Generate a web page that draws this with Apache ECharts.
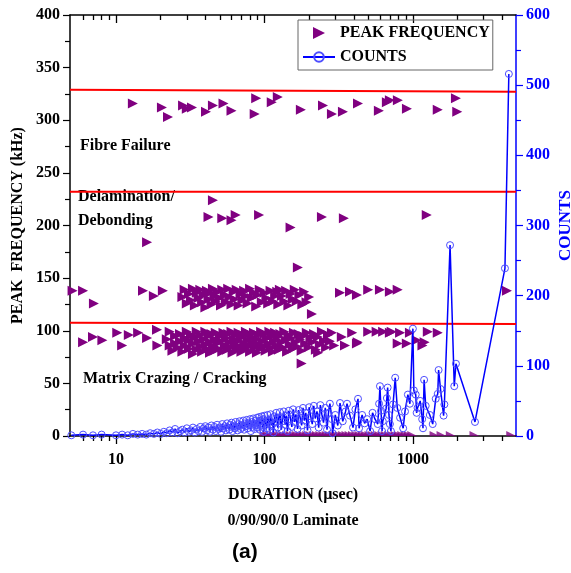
<!DOCTYPE html>
<html><head><meta charset="utf-8">
<script src="https://cdn.jsdelivr.net/npm/echarts@6/dist/echarts.min.js"></script>
<style>html,body{margin:0;padding:0;background:#fff}#c{width:571px;height:573px}</style>
</head><body><div id="c"></div>
<script>
// ---------- data ----------
const xMajorLabels = [10, 100, 1000];
const xMinorTicks = [6,7,8,9,20,30,40,50,60,70,80,90,200,300,400,500,600,700,800,900,2000,3000,4000];

const fibreBand = [[13,316],[20.4,312],[22.4,303],[28.3,314],[30,311],[32.5,312],[40.4,308],[45,314],[53,316],[60,309],[86,306],[88,321],[112,317],[123,322],[176,310],[248,314],[285,306],[338,308],[427,316],[590,309],[668,317],[700,319],[792,319],[912,311],[1470,310],[1950,321],[1990,308]];

const delamBand = [[16.2,184],[42,208],[45,224],[52,207],[60,205],[64,210],[92,210],[150,198],[168,160],[209,116],[244,208],[343,207],[1240,210]];

const band135 = [[5.1,138],[6.0,138],[7.1,126],[15.2,138],[18,133],[20.7,138],
[28,132],[29,139],[30,126],[31,135],[32,129],[33,140],[34,124],[35,136],[36,131],[37,139],[38,127],[39,134],[40,122],[41,138],[42,130],[43,136],[44,125],[45,140],[46,133],[47,128],[48,137],[50,131],[51,124],[52,139],[54,134],[55,127],[57,140],[58,132],[60,125],[62,137],[63,130],[65,139],[67,124],[69,135],[71,129],[73,138],[75,133],[77,126],[80,140],[82,131],[85,136],[88,123],[90,134],[93,139],[96,127],[100,136],[103,131],[106,126],[110,138],[114,128],[118,133],[122,137],[124,125],[127,139],[131,133],[136,128],[140,138],[145,124],[150,135],[155,130],[160,139],[165,128],[172,134],[180,125],[185,137],[192,127],[200,132],
[323,136],[377,137],[420,134],[500,139],[600,139],[700,137],[790,139],[4300,138]];

const band90 = [[6.0,89],[7.0,94],[8.1,91],[10.2,98],[11,86],[12.2,96],[14.1,98],[16.2,93],[18.9,101],[19,86],
[22,92],[23,86],[23,99],[24,81],[25,95],[25,88],[26,84],[27,97],[27,90],[28,80],[29,93],[29,86],[30,99],[31,83],[31,91],[32,96],[33,78],[33,88],[34,94],[35,82],[35,99],[36,90],[37,85],[37,96],[38,80],[39,92],[40,87],[40,99],[41,83],[42,95],[43,89],[43,79],[44,97],[45,85],[46,92],[46,81],[47,98],[48,88],[49,83],[50,95],[51,90],[52,80],[53,98],[54,86],[55,93],[56,82],[57,97],[58,89],[59,84],[60,99],[61,79],[62,92],[63,87],[64,96],[65,82],[66,90],[67,98],[68,85],[69,93],[70,80],[72,96],[73,88],[74,83],[75,99],[77,91],[78,85],[79,97],[80,80],[82,93],[83,88],[85,98],[86,84],[88,92],[89,79],[91,96],[92,87],[94,83],[95,99],[97,90],[99,85],[100,97],[102,81],[104,93],[106,88],[108,99],[110,84],[112,95],[114,80],[116,90],[118,98],[120,86],[123,94],[125,82],[128,97],[130,89],[133,84],[136,99],[139,91],[142,80],[145,96],[148,87],[151,93],[155,83],[158,98],[162,89],[166,85],[170,97],[174,92],[178,81],[183,95],[188,88],[193,98],[198,84],[204,93],[210,89],[216,97],[222,82],[229,94],[236,87],[244,99],[252,90],[260,84],[268,96],[276,90],[285,98],[295,86],
[178,69],[230,79],[332,94],[349,86],[390,98],[420,88],[425,89],[500,99],[570,99],[630,99],[700,98],[720,99],[790,88],[820,98],[910,88],[955,98],[1060,91],[1160,86],[1200,89],[1260,99],[1470,98]];

const bandZero = [[100,0],[105,0],[110,0],[116,0],[122,0],[128,0],[135,0],[142,0],[150,0],[158,0],[166,0],[175,0],[184,0],[194,0],[204,0],[215,0],[226,0],[238,0],[250,0],[263,0],[277,0],[291,0],[306,0],[322,0],[339,0],[357,0],[375,0],[395,0],[416,0],[437,0],[460,0],[484,0],[510,0],[536,0],[564,0],[594,0],[625,0],[657,0],[692,0],[728,0],[766,0],[806,0],[848,0],[893,0],[940,0],[990,0],[1400,0],[1560,0],[1800,0],[2600,0],[4600,0]];

const counts = [[5,1],[6,2],[7,1],[8,2],[10,1],[11,2],[12,1],[13,3],[14,2],[15,3],[16,2],[17,4],[18,3],[19,5],[20,3],[21,6],[22,4],[23,8],[24,5],[25,10],[26,4],[27,7],[28,9],[29,5],[30,11],[31,6],[32,8],[33,12],[34,5],[35,10],[36,7],[37,13],[38,6],[39,11],[40,14],[41,8],[42,12],[43,6],[44,15],[45,9],[46,13],[47,7],[48,16],[49,10],[50,12],[51,6],[52,17],[53,11],[54,14],[55,8],[56,18],[57,12],[58,9],[59,16],[60,19],[61,7],[62,14],[63,11],[64,20],[65,13],[66,8],[67,17],[68,21],[69,10],[70,15],[71,12],[72,22],[73,9],[74,18],[75,14],[76,23],[77,11],[78,19],[79,16],[80,24],[81,7],[82,20],[83,13],[84,25],[85,17],[86,10],[87,22],[88,15],[89,26],[90,12],[91,19],[92,27],[93,9],[94,21],[95,16],[96,28],[97,13],[98,24],[99,6],[100,29],
[102,18],[104,11],[105,30],[107,22],[108,8],[110,31],[112,15],[113,25],[115,5],[117,28],[118,19],[120,33],[123,12],[125,26],[127,34],[130,9],[132,21],[135,35],[138,16],[140,29],[143,7],[146,36],[150,24],[153,13],[156,38],[160,20],[163,31],[167,10],[170,37],[174,26],[178,15],[182,40],[186,22],[190,33],[195,8],[200,41],[205,28],[210,17],[215,43],[220,25],[226,35],[232,12],[238,44],[244,30],[250,19],[257,40],[264,9],[270,33],[276,46],
[285,24],[288,4],[300,30],[312,15],[323,47],[337,21],[352,35],[360,46],[377,29],[395,12],[410,38],[427,53],[434,11],[455,30],[473,18],[492,24],[515,7],[535,33],[556,24],[580,17],[592,46],[600,71],[610,36],[620,7],[627,21],[660,39],[668,54],[676,69],[690,30],[700,17],[711,7],[735,45],[760,83],[785,40],[820,26],[860,11],[885,35],[925,59],[955,46],[1000,153],[1015,65],[1045,59],[1060,33],[1075,40],[1120,50],[1155,24],[1170,11],[1190,80],[1220,43],[1300,30],[1360,17],[1425,53],[1470,60],[1490,94],[1535,67],[1610,29],[1630,45],[1780,272],[1900,71],[1950,103],[2620,20],[4170,239],[4430,516]];

const boundaryFibre = [[4.9,329],[4950,327]];
const boundaryDelam = [[4.9,232],[4950,232]];
const boundaryMatrix = [[4.9,107.5],[4950,106.5]];

const X_MIN = 4.9, X_MAX = 4950;

// ---------- chart ----------
const FONT = '"Liberation Serif", "Times New Roman", serif';
const PURPLE = '#800080';
const BLUE = '#0000ff';
const chart = echarts.init(document.getElementById('c'));
const peakData = fibreBand.concat(delamBand, band135, band90);

function tickAxis(position, values, len, inside, showLine) {
  return {
    type: 'log', logBase: 10, min: X_MIN, max: X_MAX, position: position, offset: 0,
    axisLine: {show: showLine, onZero: false, lineStyle: {color: '#000', width: 1.5}},
    axisTick: {show: true, inside: inside, length: len, customValues: values, lineStyle: {color: '#000', width: 1.3}},
    axisLabel: {show: false},
    splitLine: {show: false}
  };
}

const bottomAxis = tickAxis('bottom', xMajorLabels, 8, false, true);
Object.assign(bottomAxis, {
  name: 'DURATION (µsec)\n0/90/90/0 Laminate', nameLocation: 'middle', nameGap: 46,
  nameTextStyle: {fontFamily: FONT, fontWeight: 'bold', fontSize: 16, color: '#000', lineHeight: 26},
  axisLabel: {show: true, customValues: xMajorLabels, fontFamily: FONT, fontWeight: 'bold', fontSize: 16, color: '#000', margin: 16,
    formatter: v => String(Math.round(v))}
});

chart.setOption({
  animation: false,
  backgroundColor: '#fff',
  grid: {left: 70, right: 55, top: 15, bottom: 137, containLabel: false, outerBoundsMode: 'none'},
  legend: {
    data: [{name: 'PEAK FREQUENCY', icon: 'path://M0,0L10,5L0,10Z'}, {name: 'COUNTS'}],
    orient: 'vertical', left: 298, top: 20,
    borderColor: '#666', borderWidth: 1, borderRadius: 0,
    padding: [5, 3, 5, 4], itemGap: 8,
    itemWidth: 32, itemHeight: 12,
    textStyle: {fontFamily: FONT, fontWeight: 'bold', fontSize: 16, color: '#000'}
  },
  xAxis: [
    bottomAxis,
    tickAxis('top', xMajorLabels, 8, true, true),
    tickAxis('bottom', xMinorTicks, 5, false, false),
    tickAxis('top', xMinorTicks, 5, true, false)
  ],
  yAxis: [{
    type: 'value', min: 0, max: 400, interval: 50, position: 'left',
    name: 'PEAK  FREQUENCY (kHz)', nameLocation: 'middle', nameGap: 44, nameRotate: 90, nameMoveOverlap: false,
    nameTextStyle: {fontFamily: FONT, fontWeight: 'bold', fontSize: 16, color: '#000'},
    axisLine: {show: true, lineStyle: {color: '#000', width: 1.5}},
    axisTick: {show: true, inside: false, length: 7, lineStyle: {color: '#000', width: 1.2}},
    minorTick: {show: true, splitNumber: 2, length: 5, lineStyle: {color: '#000', width: 1.2}},
    axisLabel: {fontFamily: FONT, fontWeight: 'bold', fontSize: 16, color: '#000', margin: 10},
    splitLine: {show: false}
  }, {
    type: 'value', min: 0, max: 600, interval: 100, position: 'right',
    name: 'COUNTS', nameLocation: 'middle', nameGap: 41, nameRotate: 90, nameMoveOverlap: false,
    nameTextStyle: {fontFamily: FONT, fontWeight: 'bold', fontSize: 17, color: BLUE},
    axisLine: {show: true, lineStyle: {color: BLUE, width: 1.5}},
    axisTick: {show: true, inside: false, length: 7, lineStyle: {color: BLUE, width: 1.2}},
    minorTick: {show: true, splitNumber: 2, length: 5, lineStyle: {color: BLUE, width: 1.2}},
    axisLabel: {fontFamily: FONT, fontWeight: 'bold', fontSize: 16, color: BLUE, margin: 10},
    splitLine: {show: false}
  }],
  graphic: [
    {type: 'text', left: 80, top: 138, style: {text: 'Fibre Failure', font: 'bold 16px ' + FONT, fill: '#000'}},
    {type: 'text', left: 78, top: 189, style: {text: 'Delamination/', font: 'bold 16px ' + FONT, fill: '#000'}},
    {type: 'text', left: 78, top: 213, style: {text: 'Debonding', font: 'bold 16px ' + FONT, fill: '#000'}},
    {type: 'text', left: 83, top: 371, style: {text: 'Matrix Crazing / Cracking', font: 'bold 16px ' + FONT, fill: '#000'}},
    {type: 'text', left: 232, top: 542, style: {text: '(a)', font: 'bold 21px "Liberation Sans", Arial, sans-serif', fill: '#000'}}
  ],
  series: [
    {
      name: 'PEAK FREQUENCY', type: 'scatter', xAxisIndex: 0, yAxisIndex: 0,
      data: peakData, symbol: 'triangle', symbolRotate: -90, symbolSize: 10,
      itemStyle: {color: PURPLE, opacity: 1}, z: 2
    },
    {
      name: 'PEAK FREQUENCY', type: 'scatter', xAxisIndex: 0, yAxisIndex: 0,
      data: bandZero, symbol: 'path://M0,0L10,5L0,5Z', symbolSize: [10, 5], symbolOffset: [0, -2.5],
      symbolKeepAspect: false, itemStyle: {color: PURPLE}, z: 2
    },
    {name: 'b1', type: 'line', data: boundaryFibre, showSymbol: false, silent: true, lineStyle: {color: '#ff0000', width: 2}, z: 3},
    {name: 'b2', type: 'line', data: boundaryDelam, showSymbol: false, silent: true, lineStyle: {color: '#ff0000', width: 2}, z: 3},
    {name: 'b3', type: 'line', data: boundaryMatrix, showSymbol: false, silent: true, lineStyle: {color: '#ff0000', width: 2}, z: 3},
    {
      name: 'COUNTS', type: 'line', xAxisIndex: 0, yAxisIndex: 1, data: counts,
      symbol: 'circle', symbolSize: 7, showSymbol: true, showAllSymbol: true,
      itemStyle: {color: 'rgba(255,255,255,0)', borderColor: '#4d4dff', borderWidth: 1},
      lineStyle: {color: BLUE, width: 1.5}, z: 4
    }
  ]
});
</script></body></html>
